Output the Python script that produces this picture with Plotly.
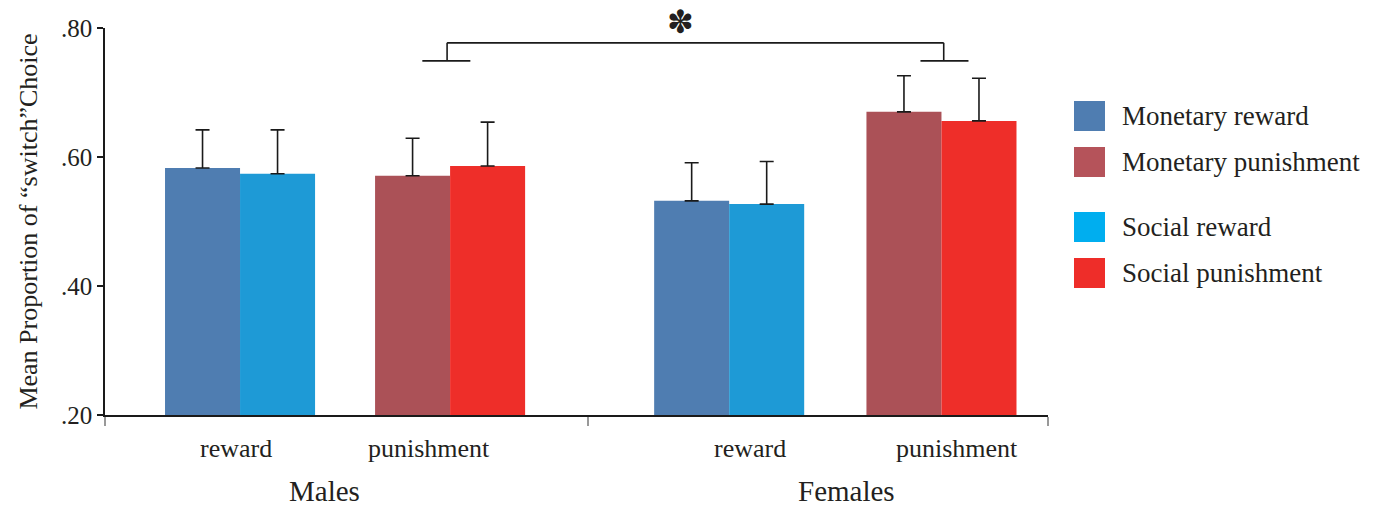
import plotly.graph_objects as go

# ---- data -------------------------------------------------------------
groups = ["Males", "Females"]
conditions = ["reward", "punishment"]

monetary_reward = [0.583, 0.532]          # Males, Females
social_reward = [0.574, 0.527]
monetary_punishment = [0.571, 0.670]
social_punishment = [0.586, 0.656]

monetary_reward_err = [0.059, 0.059]
social_reward_err = [0.068, 0.066]
monetary_punishment_err = [0.058, 0.056]
social_punishment_err = [0.068, 0.066]

y_ticks = [0.20, 0.40, 0.60, 0.80]
y_tick_labels = [".20", ".40", ".60", ".80"]

# ---- layout of the x axis (units of one bar width) ---------------------
x_max = 12.57
reward_x = [1.8, 8.32]          # centre of each reward pair (Males, Females)
punish_x = [4.6, 11.15]         # centre of each punishment pair
reward_label_x = [1.75, 8.6]
punish_label_x = [4.32, 11.36]
group_label_x = [2.92, 9.88]
divider_x = [0.0, 6.44, x_max]

FONT = "Liberation Serif, Times New Roman, serif"
TXT = "#231F20"

colors = {
    "Monetary reward": "#4F7DB1",
    "Social reward": "#1E9AD6",
    "Monetary punishment": "#AB5157",
    "Social punishment": "#EE2E29",
}
legend_colors = {
    "Monetary reward": "#4F7DB1",
    "Monetary punishment": "#B5535A",
    "Social reward": "#00AEEF",
    "Social punishment": "#EE2D29",
}

fig = go.Figure()


def add_bar(name, xs, ys, errs, offset):
    fig.add_trace(go.Bar(
        name=name, x=xs, y=ys, width=1.0, offset=offset,
        marker=dict(color=colors[name], line=dict(width=0)),
        error_y=dict(type="data", array=errs, arrayminus=[0] * len(errs),
                     symmetric=False, color="#1a1a1a", thickness=1.6, width=7),
        showlegend=False,
    ))


add_bar("Monetary reward", reward_x, monetary_reward, monetary_reward_err, -1.0)
add_bar("Social reward", reward_x, social_reward, social_reward_err, 0.0)
add_bar("Monetary punishment", punish_x, monetary_punishment, monetary_punishment_err, -1.0)
add_bar("Social punishment", punish_x, social_punishment, social_punishment_err, 0.0)

annotations = []
# condition labels under each pair, group names below them
for gi in range(len(groups)):
    for cx, cond in zip([reward_label_x[gi], punish_label_x[gi]], conditions):
        annotations.append(dict(x=cx, y=0, xref="x", yref="paper",
                                yanchor="middle", yshift=-33,
                                text=cond, showarrow=False,
                                font=dict(family=FONT, size=26, color=TXT)))
    annotations.append(dict(x=group_label_x[gi], y=0, xref="x", yref="paper",
                            yanchor="middle", yshift=-76, text=groups[gi],
                            showarrow=False,
                            font=dict(family=FONT, size=29, color=TXT)))

# significance bracket between the two punishment pairs
br_top, br_foot = 0.777, 0.749
lx, rx = punish_x[0] - 0.04, punish_x[1] + 0.03
line_style = dict(color="#1a1a1a", width=1.6)
shapes = [
    dict(type="line", xref="x", yref="y", x0=lx, x1=rx, y0=br_top, y1=br_top,
         line=line_style),
    dict(type="line", xref="x", yref="y", x0=lx, x1=lx, y0=br_top, y1=br_foot,
         line=line_style),
    dict(type="line", xref="x", yref="y", x0=rx, x1=rx, y0=br_top, y1=br_foot,
         line=line_style),
    dict(type="line", xref="x", yref="y", x0=lx - 0.33, x1=lx + 0.31,
         y0=br_foot, y1=br_foot, line=line_style),
    dict(type="line", xref="x", yref="y", x0=rx - 0.31, x1=rx + 0.33,
         y0=br_foot, y1=br_foot, line=line_style),
]
annotations.append(dict(x=(lx + rx) / 2 - 0.2, y=br_top, xref="x", yref="y",
                        yanchor="middle", yshift=21, text="✽", showarrow=False,
                        font=dict(family="DejaVu Sans", size=32, color=TXT)))

# legend drawn as swatches + labels to the right of the plot
legend_rows = [("Monetary reward", 116), ("Monetary punishment", 162),
               ("Social reward", 227), ("Social punishment", 273)]
for name, yc in legend_rows:
    shapes.append(dict(type="rect", xref="paper", yref="paper",
                       x0=(1074 - 105) / 943, x1=(1105 - 105) / 943,
                       y0=(415 - (yc + 15)) / 387, y1=(415 - (yc - 15)) / 387,
                       fillcolor=legend_colors[name], line=dict(width=0)))
    annotations.append(dict(x=(1120 - 105) / 943, y=(415 - yc) / 387,
                            xref="paper", yref="paper", xanchor="left",
                            yanchor="middle", text=name, showarrow=False,
                            font=dict(family=FONT, size=27, color=TXT)))

fig.update_layout(
    width=1374, height=510,
    margin=dict(l=105, r=326, t=28, b=95),
    paper_bgcolor="white", plot_bgcolor="white",
    barmode="overlay",
    showlegend=False,
    shapes=shapes,
    annotations=annotations,
    xaxis=dict(range=[0, x_max], showgrid=False, zeroline=False,
               showline=True, linecolor="#1a1a1a", linewidth=1.6,
               tickmode="array", tickvals=divider_x, ticktext=["", "", ""],
               ticks="outside", ticklen=9, tickwidth=2, tickcolor="#999999"),
    yaxis=dict(range=[0.2, 0.8], showgrid=False, zeroline=False,
               showline=True, linecolor="#1a1a1a", linewidth=1.6,
               tickmode="array", tickvals=y_ticks, ticktext=y_tick_labels,
               ticks="outside", ticklen=6, tickwidth=1.6, tickcolor="#1a1a1a",
               tickfont=dict(family=FONT, size=25, color=TXT),
               title=dict(text="Mean Proportion of “switch”Choice",
                          font=dict(family=FONT, size=26, color=TXT),
                          standoff=16)),
    font=dict(family=FONT, color=TXT),
)

fig.write_html("out.html")
